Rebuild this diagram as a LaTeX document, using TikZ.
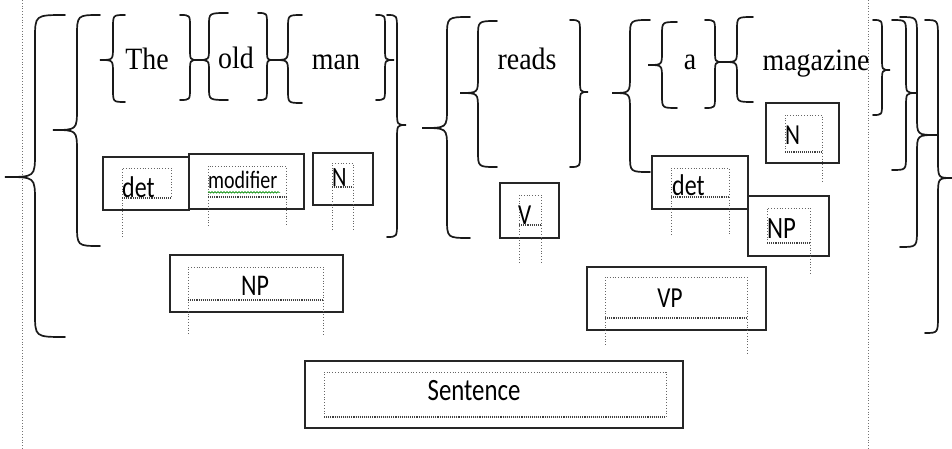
\documentclass[tikz,border=0pt]{standalone}
\usepackage{fontspec}
\newfontfamily\wordfont[FakeStretch=0.9]{Liberation Serif}
\newfontfamily\tagfont[FakeStretch=0.8]{Carlito}
\usetikzlibrary{fit,decorations.pathmorphing}

% curly brace: end x, stem x, tip x, top y, tip y, bottom y, hook size
\newcommand{\brc}[7]{%
  \draw[bracest] (#1,#4) .. controls (#2,#4) .. (#2,#4+#7) -- (#2,#5-#7)
    .. controls (#2,#5) .. (#3,#5) .. controls (#2,#5) .. (#2,#5+#7)
    -- (#2,#6-#7) .. controls (#2,#6) .. (#1,#6);}

% text-frame guides: left x, top y, right x, base y, left foot y, right foot y
\newcommand{\dfr}[6]{%
  \draw[dotst] (#1,#5) -- (#1,#2) -- (#3,#2) -- (#3,#6);
  \draw[ulst] (#1,#4) -- (#3,#4);}

\begin{document}
\begin{tikzpicture}[x=1pt,y=-1pt,
  bracest/.style={line width=1.7pt, black!90, line cap=round},
  boxst/.style={draw=black!85, line width=1.9pt, inner sep=0pt, fill=white},
  dotst/.style={black!60, line width=0.8pt, dotted},
  ulst/.style={black!75, line width=1.1pt, densely dotted},
  margin/.style={black!55, line width=0.8pt, dotted},
  word/.style={font=\wordfont\fontsize{31}{36}\selectfont, inner sep=0pt, anchor=base},
  tag/.style={font=\tagfont\fontsize{#1}{#1}\selectfont, inner sep=0pt, anchor=base west},
  tagc/.style={font=\tagfont\fontsize{#1}{#1}\selectfont, inner sep=0pt, anchor=base},
]
\useasboundingbox (0,0) rectangle (952,449);

% page margin guides
\draw[margin] (22,0) -- (22,449);
\draw[margin] (868,0) -- (868,449);

% braces
\brc{65}{35}{5}{15}{177}{337}{24}
\brc{100}{77}{53}{15}{130}{246}{22}
\brc{125}{113}{100}{15}{60}{102}{13}
\brc{180}{190}{198}{15}{60}{100}{12}
\brc{228}{209}{198}{13}{60}{100}{12}
\brc{258}{267}{273}{13}{60}{100}{12}
\brc{302}{288}{273}{15}{60}{103}{13}
\brc{376}{385}{394}{15}{60}{100}{12}
\brc{387}{397}{406}{15}{125}{237}{15}
\brc{470}{447}{422}{17}{128}{238}{20}
\brc{497}{478}{460}{21}{93}{167}{16}
\brc{570}{580}{588}{20}{92}{167}{13}
\brc{650}{630}{612}{20}{93}{172}{17}
\brc{677}{662}{648}{22}{65}{108}{13}
\brc{705}{715}{723}{20}{62}{108}{12}
\brc{753}{737}{723}{17}{62}{102}{13}
\brc{873}{882}{890}{20}{70}{115}{12}
\brc{892}{906}{917}{20}{93}{170}{14}
\brc{900}{917}{937}{17}{135}{247}{18}
\brc{925}{938}{952}{20}{178}{333}{18}

% words
\node[word] (w1) at (147,70) {The};
\node[word] (w2) at (236,69) {old};
\node[word] (w3) at (336,70) {man};
\node[word] (w4) at (527,70) {reads};
\node[word] (w5) at (690,70) {a};
\node[word] (w6) at (816,71) {magazine};

% category boxes
\node[boxst, fit={(103,157)(189,210)}] (bdetL) {};
\node[boxst, fit={(189,154)(304,209)}] (bmod) {};
\node[boxst, fit={(313,153)(373,205)}] (bNL) {};
\node[boxst, fit={(500,183)(559,238)}] (bV) {};
\node[boxst, fit={(652,156)(748,209)}] (bdetR) {};
\node[boxst, fit={(748,196)(829,256)}] (bNPR) {};
\node[boxst, fit={(766,103)(839,163)}] (bNR) {};
\node[boxst, fit={(170,255)(343,312)}] (bNPL) {};
\node[boxst, fit={(587,267)(766,330)}] (bVP) {};
\node[boxst, fit={(305,361)(683,428)}] (bS) {};

% text-frame guides inside the boxes
\dfr{122}{168}{171}{198}{237}{198}
\dfr{208}{166}{286}{197}{226}{226}
\dfr{332}{163}{353}{187}{230}{230}
\dfr{519}{195}{541}{225}{263}{263}
\dfr{671}{168}{729}{197}{235}{235}
\dfr{767}{208}{810}{243}{243}{275}
\dfr{785}{115}{822}{152}{152}{182}
\dfr{188}{267}{323}{300}{334}{334}
\dfr{605}{277}{747}{318}{345}{353}
\dfr{324}{372}{666}{417}{417}{417}

% labels
\node[tag=30] (tdetL) at (122,197) {det};
\node[tag=25] (tmod) at (208,189) {modifier};
\draw[green!55!black, line width=0.7pt, decorate,
  decoration={snake, amplitude=0.7pt, segment length=3pt}] (tmod.south west) ++(0,3) -- ++(72,0);
\node[tag=28] (tNL) at (332,186) {N};
\node[tag=29] (tV) at (518,224) {V};
\node[tag=30] (tdetR) at (672,196) {det};
\node[tag=31] (tNPR) at (767,238) {NP};
\node[tag=29] (tNR) at (785,145) {N};
\node[tagc=30] (tNPL) at (255,295) {NP};
\node[tagc=29] (tVP) at (670,307) {VP};
\node[tagc=31] (tS) at (474,400) {Sentence};
\end{tikzpicture}
\end{document}
